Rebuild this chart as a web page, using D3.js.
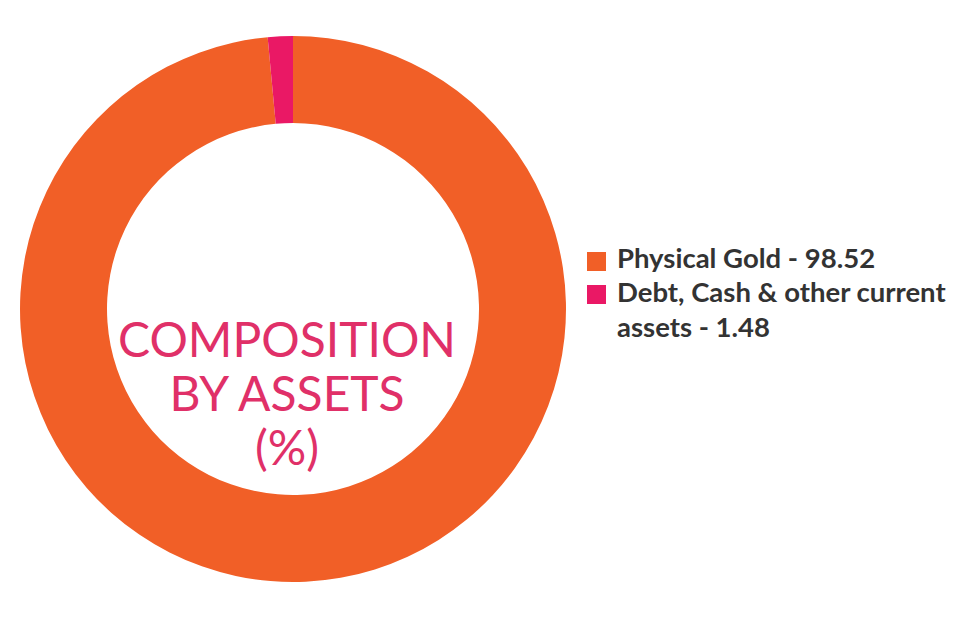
<!DOCTYPE html>
<html>
<head>
<meta charset="utf-8">
<script src="https://cdn.jsdelivr.net/npm/d3@7"></script>
<style>
  html, body { margin: 0; padding: 0; background: #ffffff; }
  svg { display: block; }
</style>
</head>
<body>
<svg id="chart" width="970" height="628"></svg>
<script>
const categories = ["Physical Gold", "Debt, Cash & other current assets"];
const values = [98.52, 1.48];
const colors = ["#f15f27", "#ea1865"];
const legendLines = [["Physical Gold - 98.52"], ["Debt, Cash & other current", "assets - 1.48"]];
const centerLines = ["COMPOSITION", "BY ASSETS", "(%)"];

const svg = d3.select("#chart");
const cx = 293, cy = 309, outerR = 273, innerR = 186;

const data = categories.map((c, i) => ({ name: c, value: values[i], color: colors[i] }));
const pie = d3.pie().sort(null).value(d => d.value);
const arc = d3.arc().innerRadius(innerR).outerRadius(outerR);

const g = svg.append("g").attr("transform", `translate(${cx},${cy})`);
g.selectAll("path").data(pie(data)).join("path")
  .attr("d", arc)
  .attr("fill", d => d.data.color);

const centerY = [357, 411, 465];
g.selectAll("text.center").data(centerLines).join("text")
  .attr("class", "center")
  .attr("x", -6)
  .attr("y", (d, i) => centerY[i] - cy)
  .attr("text-anchor", "middle")
  .attr("font-family", "Lato")
  .attr("font-weight", 400)
  .attr("font-size", 48)
  .attr("fill", "#e03068")
  .text(d => d);

const legend = svg.append("g");
const lx = 587, squareTop = [252, 285], baseY = [268, 302], lineH = 35;
data.forEach((d, i) => {
  legend.append("rect")
    .attr("x", lx).attr("y", squareTop[i])
    .attr("width", 19).attr("height", 19)
    .attr("fill", d.color);
  legendLines[i].forEach((t, j) => {
    legend.append("text")
      .attr("x", 617)
      .attr("y", baseY[i] + j * lineH)
      .attr("font-family", "Lato")
      .attr("font-weight", 700)
      .attr("font-size", 27.5)
      .attr("fill", "#333333")
      .text(t);
  });
});
</script>
</body>
</html>
